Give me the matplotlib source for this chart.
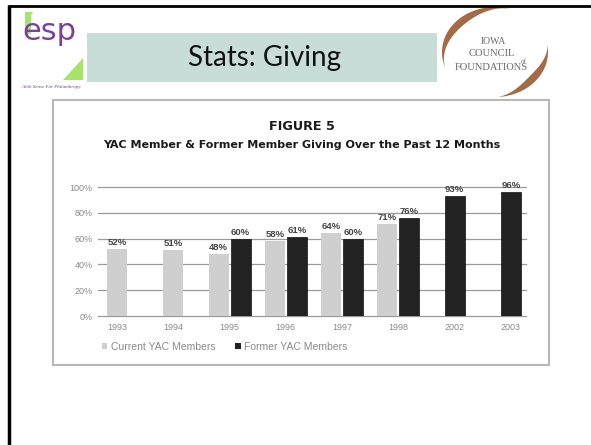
import numpy as np
import matplotlib.pyplot as plt
from matplotlib.patches import Rectangle, Polygon, Patch

# chart data
years = ['1993', '1994', '1995', '1996', '1997', '1998', '2002', '2003']
current = [52, 51, 48, 58, 64, 71, None, None]
former = [None, None, 60, 61, 60, 76, 93, 96]
series_labels = ['Current YAC Members', 'Former YAC Members']

slide_title = 'Stats: Giving'
fig_title = 'FIGURE 5'
fig_subtitle = 'YAC Member & Former Member Giving Over the Past 12 Months'

c_cur = '#cfcfcf'
c_for = '#222222'
grey_txt = '#8a8a8a'

W, H = 591, 445
fig = plt.figure(figsize=(W / 100, H / 100), dpi=100)

# background layer in pixel coordinates (slide decoration)
bg = fig.add_axes([0, 0, 1, 1])
bg.set_xlim(0, W)
bg.set_ylim(H, 0)
bg.axis('off')

# slide frame
bg.plot([8, W], [5.5, 5.5], color='black', lw=2, solid_capstyle='butt')
bg.plot([8.5, 8.5], [5, H], color='black', lw=2.5, solid_capstyle='butt')

# header band
bg.add_patch(Rectangle((87, 33), 350, 49, facecolor='#c9ddd8', edgecolor='none'))
bg.text(264, 58, slide_title, fontsize=20, family='Lato', ha='center', va='center', color='#111111')

# left logo
bg.add_patch(Polygon([(25, 12), (33, 12), (31, 15), (31, 34), (25, 34)], facecolor='#a6e46a', edgecolor='none'))
bg.add_patch(Polygon([(83, 58), (83, 80), (63, 80)], facecolor='#a6e46a', edgecolor='none'))
bg.text(49, 31, 'esp', fontsize=22, family='DejaVu Sans', color='#7b3fa0',
        ha='center', va='center')
bg.text(51, 87, 'A 6th Sense For Philanthropy', fontsize=3.6, family='Liberation Serif',
        style='italic', color='#6a3f8f', ha='center', va='center')

# right logo: two tapered crescents + text
def crescent(cx, cy, a, b, tmax, t0, t1):
    t = np.linspace(t0, t1, 100)
    th = tmax * np.sin(np.pi * (t - t0) / (t1 - t0)) ** 1.5
    r = np.radians(t)
    outer = np.c_[cx + a * np.cos(r), cy - b * np.sin(r)]
    inner = np.c_[cx + (a - th) * np.cos(r), cy - (b - th) * np.sin(r)]
    return np.vstack([outer, inner[::-1]])

brown = '#a36b45'
bg.add_patch(Polygon(crescent(495, 52, 53, 45, 7.5, 72, 202), facecolor=brown, edgecolor='none'))
bg.add_patch(Polygon(crescent(495, 52, 53, 45, 7.5, -88, 10), facecolor=brown, edgecolor='none'))
bg.text(493, 42, 'IOWA', fontsize=7, family='Liberation Serif', color='#6a6a6a', ha='center', va='center')
bg.text(492, 54, 'COUNCIL', fontsize=7.6, family='Liberation Serif', color='#6a6a6a', ha='center', va='center')
bg.text(524, 61, 'of', fontsize=5, family='Liberation Serif', style='italic', color='#6a6a6a', ha='center', va='center')
bg.text(491, 67, 'FOUNDATIONS', fontsize=7.6, family='Liberation Serif', color='#6a6a6a', ha='center', va='center')

# chart frame
bg.add_patch(Rectangle((52.5, 99.5), 496, 265, facecolor='white', edgecolor='#b8b8b8', lw=1.5))
bg.text(302, 127, fig_title, fontsize=9.2, fontweight='bold', family='DejaVu Sans', ha='center', va='center', color='#1a1a1a')
bg.text(302, 145, fig_subtitle, fontsize=8.0, fontweight='bold', family='DejaVu Sans', ha='center', va='center', color='#1a1a1a')

# chart
ax = fig.add_axes([98 / W, 1 - 316 / H, 428 / W, 129 / H])
ax.patch.set_alpha(0)
x = np.arange(len(years))
bw = 0.355
off = bw / 2 + 0.018
lab_kw = dict(textcoords='offset points', ha='center', va='bottom', fontsize=6.8, fontweight='bold',
              color='#444444', family='Liberation Sans', annotation_clip=False)
for i in range(len(years)):
    cur, fmr = current[i], former[i]
    both = cur is not None and fmr is not None
    if cur is not None:
        xc = i - off if both else i
        ax.bar(xc, cur, bw, color=c_cur, zorder=3)
        ax.annotate(f'{cur}%', (xc, cur), xytext=(0, 1.5), **lab_kw)
    if fmr is not None:
        xf = i + off if both else i
        ax.bar(xf, fmr, bw, color=c_for, edgecolor='#111111', lw=0.5, zorder=3)
        ax.annotate(f'{fmr}%', (xf, fmr), xytext=(0, 1.5), **lab_kw)

ax.set_xlim(-0.337, 7.266)
ax.set_ylim(0, 100)
ax.set_yticks(range(0, 101, 20))
ax.set_yticklabels([f'{v}%' for v in range(0, 101, 20)])
ax.set_xticks(x)
ax.set_xticklabels(years)
for s in ax.spines.values():
    s.set_visible(False)
ax.tick_params(length=0, labelsize=6.5, labelcolor=grey_txt)
ax.tick_params(axis='y', pad=4)
ax.tick_params(axis='x', pad=5)
for lab in ax.get_xticklabels() + ax.get_yticklabels():
    lab.set_family('Liberation Sans')
for v in range(0, 101, 20):
    ax.axhline(v, color='#9a9a9a', lw=0.9, zorder=1, clip_on=False)

handles = [Patch(facecolor=c_cur), Patch(facecolor=c_for)]
leg = ax.legend(handles, series_labels, loc='center left', bbox_to_anchor=(97 / W, 1 - 347 / H),
                bbox_transform=fig.transFigure, ncol=2, frameon=False, borderpad=0,
                handlelength=0.5, handleheight=0.5, handletextpad=0.35, columnspacing=1.9,
                prop={'family': 'Liberation Sans', 'size': 7.5})
for t in leg.get_texts():
    t.set_color(grey_txt)

fig.savefig('out.png', dpi=100)
